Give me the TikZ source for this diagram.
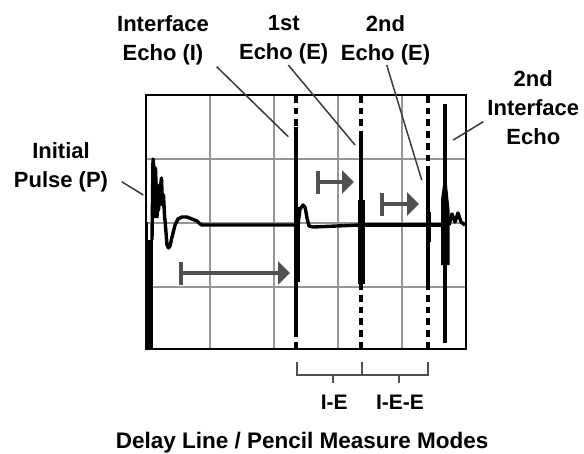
\documentclass[tikz,border=0pt]{standalone}
\usepackage{fontspec}
\setmainfont{Liberation Sans}
\usetikzlibrary{arrows.meta}
\definecolor{gridgray}{RGB}{150,150,150}
\definecolor{arrgray}{RGB}{80,80,80}
\definecolor{leadgray}{RGB}{60,60,60}
\begin{document}
\begin{tikzpicture}[x=1pt,y=-1pt,
  lbl/.style={font=\fontsize{22}{29}\selectfont\bfseries, align=center, inner sep=0pt, anchor=north},
  sublbl/.style={font=\fontsize{21}{26}\selectfont\bfseries, inner sep=0pt, anchor=north},
  titlelbl/.style={font=\fontsize{22.5}{28}\selectfont\bfseries, inner sep=0pt, anchor=north},
  gridln/.style={draw=gridgray, line width=2pt},
  framebox/.style={draw=black, line width=2pt},
  sigtrace/.style={draw=black, line width=3.4pt, line join=round},
  spike/.style={draw=black, line width=4pt},
  echodash/.style={draw=black, line width=3.2pt, dash pattern=on 6.7pt off 5pt},
  leaderln/.style={draw=leadgray, line width=1.5pt},
  shiftarrow/.style={draw=arrgray, line width=4pt, {Bar[width=23pt]}-{Triangle[length=12pt,width=23pt]}},
  bracketln/.style={draw=arrgray, line width=1.6pt}
]
\useasboundingbox (0,0) rectangle (584,453);
\fill[white] (0,0) rectangle (584,453);

% grid
\foreach \gx in {210,274,338,402} \draw[gridln] (\gx,95) -- (\gx,349);
\foreach \gy in {159,223,287} \draw[gridln] (146,\gy) -- (466,\gy);
\draw[framebox] (146,95) rectangle (466,349);

% echo marker lines
\draw[echodash] (296,96) -- (296,349);
\draw[echodash] (361,96) -- (361,349);
\draw[echodash] (428,96) -- (428,349);

% initial pulse
\fill (145.5,240) rectangle (153,349);
\draw[sigtrace, line width=2pt] (147,240) -- (147,222);
\fill (152,218) -- (152,165) -- (154,159) -- (156,172) -- (158,190) -- (160,205) -- (158.5,218) -- cycle;
\draw[sigtrace] (152,240) -- (153,159) -- (154.5,175) -- (155.5,168) -- (156.5,200) -- (157.5,185)
  -- (158.5,210) -- (160,190) -- (161.5,178) -- (162.5,205) -- (163.5,195) -- (164.5,215)
  -- (165.5,226) -- (167,245) -- (168.5,248) -- (170,246) -- (172,237) -- (175,225) -- (178,219)
  -- (182,217) -- (187,217) -- (192,219) -- (197,221) -- (200,224) -- (202,225) -- (294,225);

% interface echo
\draw[spike] (296,127) -- (296,331);
\fill (293.5,207) rectangle (299.5,282);
\draw[sigtrace] (298,225) -- (300,209) -- (303,205) -- (305,207) -- (307,218) -- (309,226)
  -- (313,227) -- (360,225);

% 1st echo
\draw[spike, line width=4.5pt] (361,138) -- (361,286);
\fill (358,200) rectangle (364.5,284);
\draw[sigtrace] (364,225) -- (428,225);

% 2nd echo
\draw[spike] (428,168) -- (428,283);
\fill (425.5,212) rectangle (431,242);
\draw[sigtrace] (431,225) -- (442,225);

% 2nd interface echo
\draw[spike] (445,104) -- (445,343);
\fill (441,200) -- (443,185) -- (447,185) -- (449.5,210) -- (449.5,265) -- (441,265) -- cycle;
\draw[sigtrace] (449,225) -- (452,214) -- (455,222) -- (458,213) -- (461,222) -- (465,225);

% shift arrows
\coordinate (a1s) at (179,273); \coordinate (a1e) at (290,273);
\coordinate (a2s) at (316,182); \coordinate (a2e) at (354,182);
\coordinate (a3s) at (380,204); \coordinate (a3e) at (419,204);
\draw[shiftarrow] (a1s) -- (a1e);
\draw[shiftarrow] (a2s) -- (a2e);
\draw[shiftarrow] (a3s) -- (a3e);

% labels
\node[lbl] (lint) at (163,15) {Interface\\Echo (I)};
\node[lbl] (lfirst) at (283.7,15) {1st\\Echo (E)};
\node[lbl] (lsecond) at (385.5,15) {2nd\\Echo (E)};
\node[lbl] (lsecint) at (533.3,70) {2nd\\Interface\\Echo};
\node[lbl] (linit) at (61,142.7) {Initial\\Pulse (P)};

% leader lines
\coordinate (p1a) at (121.7,181.7); \coordinate (p1b) at (143.3,195);
\coordinate (p2a) at (216.7,66.7);  \coordinate (p2b) at (288.3,136.7);
\coordinate (p3a) at (288.3,65);    \coordinate (p3b) at (355,145);
\coordinate (p4a) at (386.7,65);    \coordinate (p4b) at (421.7,180);
\coordinate (p5a) at (483.3,121.7); \coordinate (p5b) at (453.3,140);
\draw[leaderln] (p1a) -- (p1b);
\draw[leaderln] (p2a) -- (p2b);
\draw[leaderln] (p3a) -- (p3b);
\draw[leaderln] (p4a) -- (p4b);
\draw[leaderln] (p5a) -- (p5b);

% measurement brackets
\coordinate (b1) at (297,362); \coordinate (b2) at (362,362); \coordinate (b3) at (428,362);
\draw[bracketln] (b1) -- ++(0,13) -| (b3);
\draw[bracketln] (b2) -- ++(0,13);
\draw[bracketln] (333,375) -- (333,383);
\draw[bracketln] (399,375) -- (399,383);
\node[sublbl] (mie) at (334.3,395) {I-E};
\node[sublbl] (miee) at (400,395) {I-E-E};

\node[titlelbl] (title) at (302.2,432) {Delay Line / Pencil Measure Modes};
\end{tikzpicture}
\end{document}
